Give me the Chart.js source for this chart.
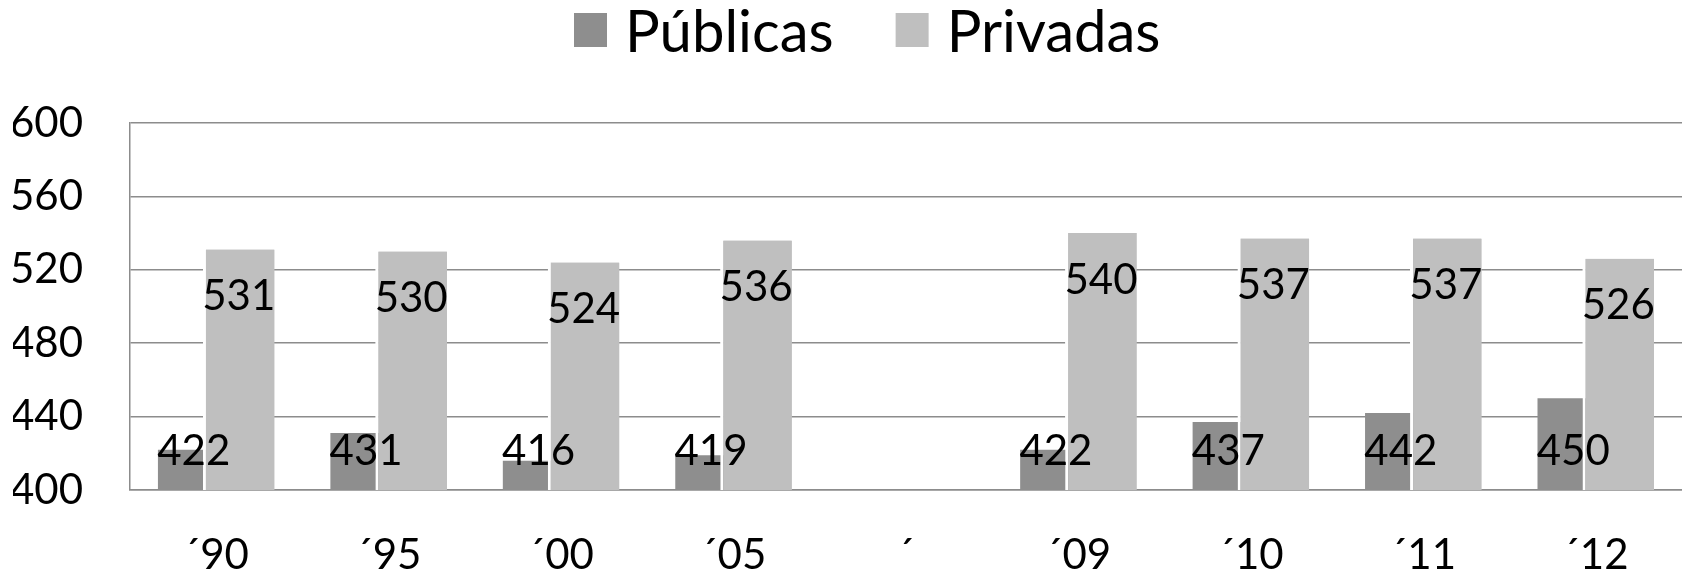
<!DOCTYPE html>
<html>
<head>
<meta charset="utf-8">
<script src="https://cdn.jsdelivr.net/npm/chart.js@4"></script>
<style>
  html, body { margin: 0; padding: 0; background: #fff; }
  #wrap { width: 1682px; height: 574px; }
</style>
</head>
<body>
<div id="wrap"><canvas id="chart" width="1682" height="574"></canvas></div>
<script>
// Data
const labels = ['\u00b490', '\u00b495', '\u00b400', '\u00b405', '\u00b4', '\u00b409', '\u00b410', '\u00b411', '\u00b412'];
const publicas = [422, 431, 416, 419, null, 422, 437, 442, 450];
const privadas = [531, 530, 524, 536, null, 540, 537, 537, 526];
const yTicks = [400, 440, 480, 520, 560, 600];

const FONT = 'Lato, "Liberation Sans", sans-serif';

// legend drawn by hand so the spacing can follow the original
const topLegend = {
    id: 'topLegend',
    afterDraw(chart) {
        const ctx = chart.ctx;
        let x = 574;
        ctx.save();
        ctx.font = '58px ' + FONT;
        ctx.textBaseline = 'middle';
        ctx.textAlign = 'left';
        chart.data.datasets.forEach(function(ds) {
            ctx.fillStyle = ds.backgroundColor;
            ctx.fillRect(x, 13, 33, 34);
            ctx.fillStyle = '#000';
            ctx.fillText(ds.label, x + 51, 33);
            x += 51 + ctx.measureText(ds.label).width + 62;
        });
        ctx.restore();
    }
};

// Privadas sits over the Públicas bar, so draw it again on top, then the value labels
const overlapAndLabels = {
    id: 'overlapAndLabels',
    afterDatasetsDraw(chart) {
        const ctx = chart.ctx;
        const area = chart.chartArea;
        ctx.save();
        ctx.beginPath();
        ctx.rect(area.left, area.top, area.right - area.left, area.bottom - area.top);
        ctx.clip();
        chart.getDatasetMeta(1).controller.draw();
        ctx.restore();

        ctx.save();
        ctx.font = '42px ' + FONT;
        ctx.fillStyle = '#000';
        ctx.textAlign = 'center';
        ctx.textBaseline = 'middle';
        chart.data.datasets.forEach(function(ds, di) {
            const meta = chart.getDatasetMeta(di);
            meta.data.forEach(function(bar, i) {
                const v = ds.data[i];
                if (v === null) return;
                const y = di === 0 ? area.bottom - 39 : bar.y + 47;
                ctx.fillText(String(v), bar.x, y);
            });
        });
        ctx.restore();
    }
};

new Chart(document.getElementById('chart'), {
    type: 'bar',
    data: {
        labels: labels,
        datasets: [{
            label: 'Públicas',
            data: publicas,
            backgroundColor: '#8e8e8e',
            borderWidth: 0,
            categoryPercentage: 0.522,
            barPercentage: 1.59
        }, {
            label: 'Privadas',
            data: privadas,
            backgroundColor: '#bfbfbf',
            borderColor: '#ffffff',
            borderWidth: { left: 3, top: 0, right: 0, bottom: 0 },
            borderSkipped: false,
            categoryPercentage: 0.522,
            barPercentage: 1.59
        }]
    },
    options: {
        responsive: false,
        animation: false,
        layout: {
            padding: { left: 13, right: 0, top: 123, bottom: 0 }
        },
        plugins: {
            legend: { display: false },
            tooltip: { enabled: false }
        },
        scales: {
            y: {
                min: 400,
                max: 600,
                afterBuildTicks: function(axis) {
                    axis.ticks = yTicks.map(function(v) { return { value: v }; });
                },
                afterFit: function(axis) {
                    axis.width = 117;
                },
                grid: {
                    color: '#8c8c8c',
                    lineWidth: 1.5,
                    drawTicks: false
                },
                border: { color: '#8c8c8c', width: 1.5 },
                ticks: {
                    color: '#000',
                    padding: 47,
                    font: { family: FONT, size: 42 }
                }
            },
            x: {
                afterFit: function(axis) {
                    axis.height = 84;
                },
                grid: { display: false, drawTicks: false },
                border: { color: '#8c8c8c', width: 1.5 },
                ticks: {
                    color: '#000',
                    padding: 44,
                    autoSkip: false,
                    maxRotation: 0,
                    font: { family: FONT, size: 42, lineHeight: 1.0 }
                }
            }
        }
    },
    plugins: [overlapAndLabels, topLegend]
});
</script>
</body>
</html>
